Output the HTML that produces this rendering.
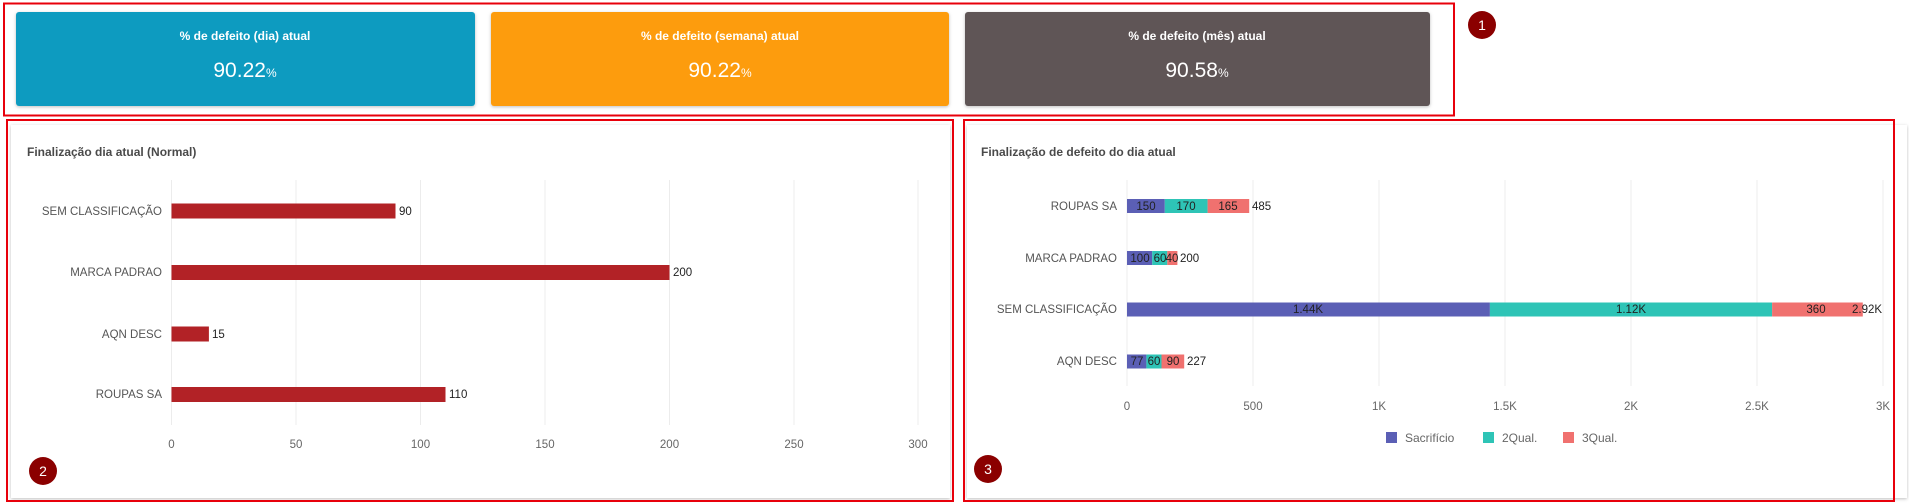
<!DOCTYPE html>
<html><head><meta charset="utf-8"><style>
html,body{margin:0;padding:0;background:#fff;}
svg{display:block;font-family:"Liberation Sans",sans-serif;}
</style></head><body>
<svg width="1909" height="504" viewBox="0 0 1909 504" xmlns="http://www.w3.org/2000/svg">
<defs><filter id="sh" x="-5%" y="-5%" width="110%" height="115%"><feDropShadow dx="0" dy="1" stdDeviation="1.5" flood-color="#000" flood-opacity="0.25"/></filter></defs>
<!-- cards -->
<rect x="16" y="12" width="459" height="94" rx="3" fill="#0e9bc0" filter="url(#sh)"/>
<rect x="491" y="12" width="458" height="94" rx="3" fill="#fd9c0a" filter="url(#sh)"/>
<rect x="965" y="12" width="465" height="94" rx="3" fill="#5e5556" filter="url(#sh)"/>
<g fill="#fff" text-anchor="middle">
<text x="245" y="40" font-size="12" font-weight="bold">% de defeito (dia) atual</text>
<text x="245" y="77" font-size="21">90.22<tspan font-size="12">%</tspan></text>
<text x="720" y="40" font-size="12" font-weight="bold">% de defeito (semana) atual</text>
<text x="720" y="77" font-size="21">90.22<tspan font-size="12">%</tspan></text>
<text x="1197" y="40" font-size="12" font-weight="bold">% de defeito (mês) atual</text>
<text x="1197" y="77" font-size="21">90.58<tspan font-size="12">%</tspan></text>
</g>
<rect x="4" y="3.5" width="1450" height="112" fill="none" stroke="#e8000b" stroke-width="2"/>
<circle cx="1482" cy="25" r="14" fill="#8b0000"/><text x="1482" y="30" fill="#fff" font-size="14" text-anchor="middle">1</text>

<!-- panel 2 -->
<rect x="11" y="125" width="939" height="373" fill="#fff" filter="url(#sh)"/>
<rect x="7" y="120" width="946" height="381" fill="none" stroke="#e8000b" stroke-width="2"/>
<text x="27" y="156" font-size="12" font-weight="bold" fill="#4a4a4a">Finalização dia atual (Normal)</text>
<g stroke="#ececec" stroke-width="1">
<line x1="171.5" y1="180" x2="171.5" y2="425"/><line x1="296" y1="180" x2="296" y2="425"/><line x1="420.5" y1="180" x2="420.5" y2="425"/><line x1="545" y1="180" x2="545" y2="425"/><line x1="669.5" y1="180" x2="669.5" y2="425"/><line x1="794" y1="180" x2="794" y2="425"/><line x1="918" y1="180" x2="918" y2="425"/>
</g>
<g font-size="11.5" fill="#666" text-anchor="middle">
<text x="171.5" y="448">0</text><text x="296" y="448">50</text><text x="420.5" y="448">100</text><text x="545" y="448">150</text><text x="669.5" y="448">200</text><text x="794" y="448">250</text><text x="918" y="448">300</text>
</g>
<g font-size="11.5" fill="#555" text-anchor="end">
<text x="162" y="215">SEM CLASSIFICAÇÃO</text><text x="162" y="276">MARCA PADRAO</text><text x="162" y="338">AQN DESC</text><text x="162" y="398">ROUPAS SA</text>
</g>
<g fill="#b22226">
<rect x="171.5" y="203.5" width="224" height="15"/><rect x="171.5" y="265" width="498" height="15"/><rect x="171.5" y="326.5" width="37.4" height="15"/><rect x="171.5" y="387" width="274" height="15"/>
</g>
<g font-size="11.5" fill="#222">
<text x="399" y="215">90</text><text x="673" y="276">200</text><text x="212" y="338">15</text><text x="449" y="398">110</text>
</g>
<circle cx="43" cy="471" r="14" fill="#8b0000"/><text x="43" y="476" fill="#fff" font-size="14" text-anchor="middle">2</text>

<!-- panel 3 -->
<rect x="967" y="125" width="940" height="373" fill="#fff" filter="url(#sh)"/>
<rect x="964" y="120" width="930" height="381" fill="none" stroke="#e8000b" stroke-width="2"/>
<text x="981" y="156" font-size="12" font-weight="bold" fill="#4a4a4a">Finalização de defeito do dia atual</text>
<g stroke="#ececec" stroke-width="1">
<line x1="1127" y1="180" x2="1127" y2="386"/><line x1="1253" y1="180" x2="1253" y2="386"/><line x1="1379" y1="180" x2="1379" y2="386"/><line x1="1505" y1="180" x2="1505" y2="386"/><line x1="1631" y1="180" x2="1631" y2="386"/><line x1="1757" y1="180" x2="1757" y2="386"/><line x1="1883" y1="180" x2="1883" y2="386"/>
</g>
<g font-size="11.5" fill="#666" text-anchor="middle">
<text x="1127" y="410">0</text><text x="1253" y="410">500</text><text x="1379" y="410">1K</text><text x="1505" y="410">1.5K</text><text x="1631" y="410">2K</text><text x="1757" y="410">2.5K</text><text x="1883" y="410">3K</text>
</g>
<g font-size="11.5" fill="#555" text-anchor="end">
<text x="1117" y="210">ROUPAS SA</text><text x="1117" y="262">MARCA PADRAO</text><text x="1117" y="313">SEM CLASSIFICAÇÃO</text><text x="1117" y="365">AQN DESC</text>
</g>
<!-- ROUPAS -->
<rect x="1127" y="199" width="37.8" height="14" fill="#5b5fb5"/><rect x="1164.8" y="199" width="42.8" height="14" fill="#2ec4b6"/><rect x="1207.6" y="199" width="41.6" height="14" fill="#f0716f"/>
<!-- MARCA -->
<rect x="1127" y="251" width="25.2" height="14" fill="#5b5fb5"/><rect x="1152.2" y="251" width="15.1" height="14" fill="#2ec4b6"/><rect x="1167.3" y="251" width="10.1" height="14" fill="#f0716f"/>
<!-- SEM -->
<rect x="1127" y="302.5" width="362.9" height="14" fill="#5b5fb5"/><rect x="1489.9" y="302.5" width="282.2" height="14" fill="#2ec4b6"/><rect x="1772.1" y="302.5" width="90.7" height="14" fill="#f0716f"/>
<!-- AQN -->
<rect x="1127" y="354.5" width="19.4" height="14" fill="#5b5fb5"/><rect x="1146.4" y="354.5" width="15.1" height="14" fill="#2ec4b6"/><rect x="1161.5" y="354.5" width="22.7" height="14" fill="#f0716f"/>
<g font-size="11.5" fill="#222" text-anchor="middle">
<text x="1146" y="210">150</text><text x="1186" y="210">170</text><text x="1228" y="210">165</text>
<text x="1140" y="262">100</text><text x="1160" y="262">60</text><text x="1172" y="262">40</text>
<text x="1308" y="313">1.44K</text><text x="1631" y="313">1.12K</text><text x="1816" y="313">360</text>
<text x="1137" y="365">77</text><text x="1154" y="365">60</text><text x="1173" y="365">90</text>
</g>
<g font-size="11.5" fill="#222">
<text x="1252" y="210">485</text><text x="1180" y="262">200</text><text x="1852" y="313">2.92K</text><text x="1187" y="365">227</text>
</g>
<rect x="1386" y="432" width="11" height="11" fill="#5b5fb5"/><text x="1405" y="442" font-size="12" fill="#666">Sacrifício</text>
<rect x="1483" y="432" width="11" height="11" fill="#2ec4b6"/><text x="1502" y="442" font-size="12" fill="#666">2Qual.</text>
<rect x="1563" y="432" width="11" height="11" fill="#f0716f"/><text x="1582" y="442" font-size="12" fill="#666">3Qual.</text>
<circle cx="988" cy="469" r="14" fill="#8b0000"/><text x="988" y="474" fill="#fff" font-size="14" text-anchor="middle">3</text>
</svg>
</body></html>
